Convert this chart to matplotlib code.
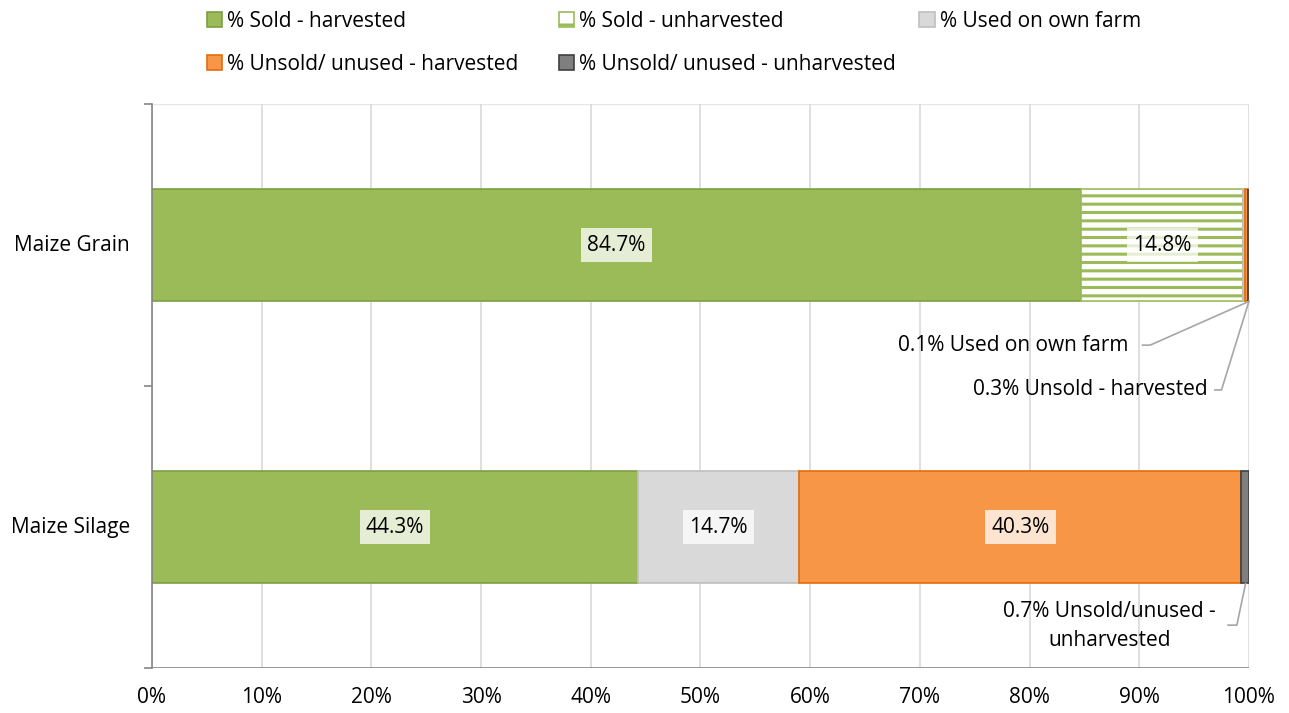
import numpy as np
import matplotlib.pyplot as plt
from matplotlib.patches import Patch

# data (percent of crop)
crops = ["Maize Silage", "Maize Grain"]
sold_harvested = [44.3, 84.7]
sold_unharvested = [0.0, 14.8]
used_own_farm = [14.7, 0.1]
unsold_harvested = [40.3, 0.3]
unsold_unharvested = [0.7, 0.0]

series_names = ["% Sold - harvested", "% Sold - unharvested", "% Used on own farm",
                "% Unsold/ unused - harvested", "% Unsold/ unused - unharvested"]
series = [sold_harvested, sold_unharvested, used_own_farm, unsold_harvested, unsold_unharvested]
faces = ["#9BBB59", "white", "#D9D9D9", "#F79646", "#7F7F7F"]
edges = ["#7E9E44", "#9BBB59", "#BFBFBF", "#E46C0A", "#404040"]
hatches = [None, "--", None, None, None]

plt.rcParams['font.family'] = ['Open Sans', 'DejaVu Sans']
plt.rcParams['hatch.linewidth'] = 2.2
FS = 15

fig = plt.figure(figsize=(12.89, 7.13), dpi=100)
ax = fig.add_axes([0.1179, 0.0631, 0.8510, 0.7910])

ypos = np.array([0.5, 1.5])
bar_h = 0.4
left = np.zeros(len(crops))
bars = []
for vals, fc, ec, hat in zip(series, faces, edges, hatches):
    vals = np.array(vals)
    b = ax.barh(ypos, vals, left=left, height=bar_h, color=fc, edgecolor=ec,
                hatch=hat, linewidth=1.2, zorder=3)
    bars.append(b)
    left = left + vals

# in-bar labels for the big segments
box = dict(boxstyle="square,pad=0.3", fc="white", ec="none", alpha=0.75)
for si, b in enumerate(bars):
    for ci, rect in enumerate(b):
        v = series[si][ci]
        if v < 5:
            continue
        cx = rect.get_x() + rect.get_width() / 2
        ax.text(cx, ypos[ci], "%.1f%%" % v, ha="center", va="center",
                fontsize=FS, bbox=box, zorder=5)

# callouts for the thin slices
lc = "#A6A6A6"
grain_bottom = ypos[1] - bar_h / 2
silage_bottom = ypos[0] - bar_h / 2
ax.text(89.0, 1.145, "0.1% Used on own farm", ha="right", va="center", fontsize=FS, zorder=6)
ax.plot([90.3, 91.0, 100], [1.145, 1.145, grain_bottom], color=lc, lw=1.2, zorder=6,
        clip_on=False)
ax.text(96.2, 0.986, "0.3% Unsold - harvested", ha="right", va="center", fontsize=FS, zorder=6)
ax.plot([96.9, 97.5, 100], [0.986, 0.986, grain_bottom], color=lc, lw=1.2, zorder=6,
        clip_on=False)
ax.text(87.3, 0.149, "0.7% Unsold/unused -\nunharvested", ha="center", va="center",
        fontsize=FS, linespacing=1.45, zorder=6)
ax.plot([98.1, 98.9, 99.7], [0.152, 0.152, silage_bottom], color=lc, lw=1.2, zorder=6,
        clip_on=False)

ax.set_xlim(0, 100)
ax.set_ylim(0, 2)
ax.set_xticks(np.arange(0, 101, 10))
ax.set_xticklabels(["%d%%" % t for t in range(0, 101, 10)], fontsize=FS)
ax.set_yticks([0, 1, 2])
ax.set_yticklabels([])
ax.tick_params(axis="y", length=6, color="#868686", width=1.2)
ax.tick_params(axis="x", length=0, pad=14)
for ci, name in enumerate(crops):
    ax.text(-0.02, ypos[ci], name, transform=ax.get_yaxis_transform(),
            ha="right", va="center", fontsize=FS)

ax.grid(axis="x", color="#D9D9D9", lw=1.2, zorder=0)
ax.axhline(2, color="#E6E6E6", lw=1.0, zorder=0)
for s in ["top", "right", "bottom"]:
    ax.spines[s].set_visible(False)
ax.spines["left"].set_color("#868686")
ax.spines["left"].set_linewidth(1.2)
ax.spines["left"].set_zorder(4)
ax.axhline(0, color="#868686", lw=1.2, zorder=4)

# legend: three columns placed like the original
handles = [Patch(facecolor=fc, edgecolor=ec, lw=1.2) for fc, ec in zip(faces, edges)]
handles[1] = Patch(facecolor="white", edgecolor=edges[1], hatch="-", lw=1.2)
cols = [[0, 3], [1, 4], [2]]
col_x = [0.149, 0.422, 0.702]
for idxs, x0 in zip(cols, col_x):
    fig.legend([handles[i] for i in idxs], [series_names[i] for i in idxs],
               ncol=1, loc="upper left", bbox_to_anchor=(x0, 1.005), frameon=False,
               fontsize=FS, handlelength=0.75, handleheight=0.75, handletextpad=0.25,
               labelspacing=1.05, borderaxespad=0.3)

fig.savefig("out.png", dpi=100)
